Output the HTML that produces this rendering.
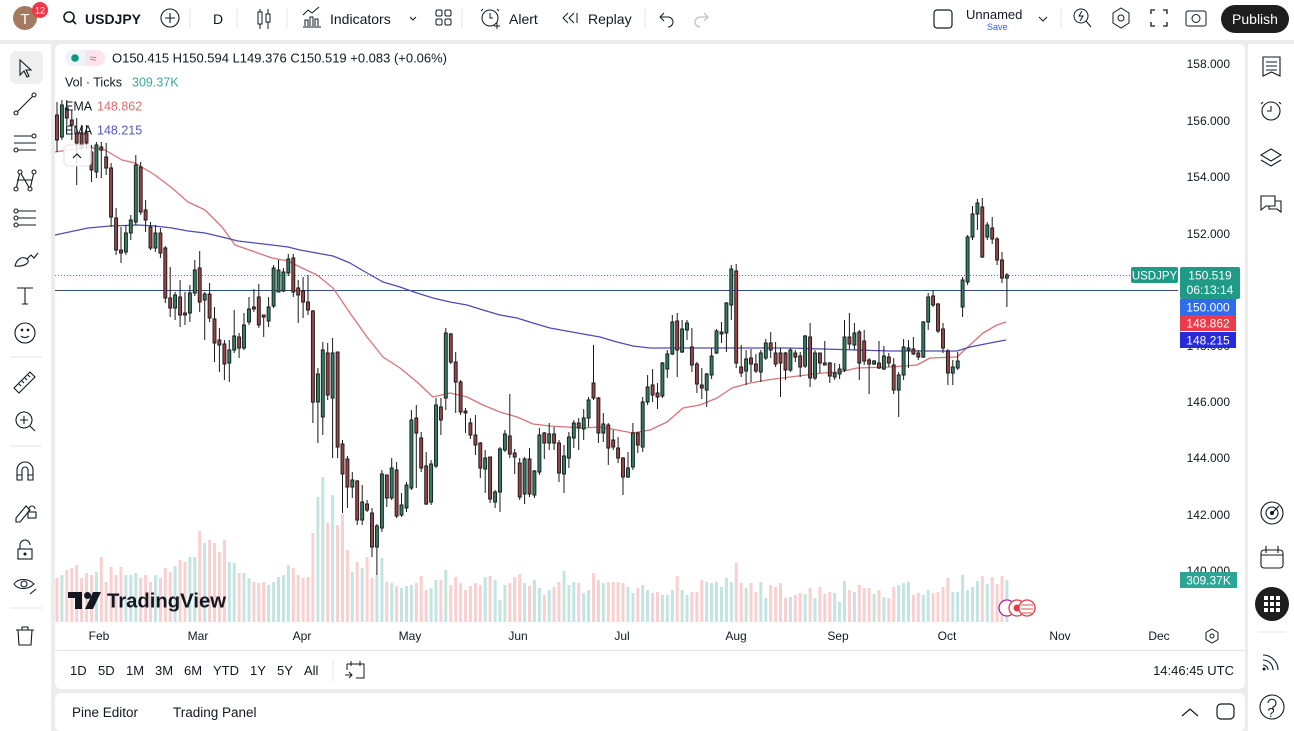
<!DOCTYPE html>
<html><head><meta charset="utf-8"><style>
html,body{margin:0;padding:0;background:#ececec;width:1294px;height:731px;overflow:hidden}
svg{position:absolute;left:0;top:0}
text{font-family:"Liberation Sans",sans-serif;fill:#131722}
</style></head><body>
<svg width="1294" height="731" viewBox="0 0 1294 731" xmlns="http://www.w3.org/2000/svg">
<!-- panels -->
<rect x="0" y="0" width="1294" height="40" fill="#fff"/>
<rect x="0" y="44" width="51" height="687" fill="#fff"/>
<rect x="55" y="44" width="1190" height="645" rx="6" fill="#fff"/>
<rect x="55" y="693" width="1190" height="38" rx="6" fill="#fff"/>
<rect x="1248" y="44" width="46" height="687" fill="#fff"/>

<!-- top toolbar -->
<circle cx="25" cy="18" r="12" fill="#a37a5f"/>
<text x="25" y="24" font-size="15" text-anchor="middle" style="fill:#fff">T</text>
<circle cx="40" cy="10" r="8" fill="#f23645"/>
<text x="40" y="13.5" font-size="9" text-anchor="middle" style="fill:#fff">12</text>
<circle cx="69" cy="17" r="5" fill="none" stroke="#131722" stroke-width="1.6"/>
<line x1="72.5" y1="20.5" x2="76" y2="24" stroke="#131722" stroke-width="1.6"/>
<text x="85" y="24" font-size="14" font-weight="bold">USDJPY</text>
<circle cx="170" cy="18" r="9" fill="none" stroke="#131722" stroke-width="1.1"/>
<path d="M165 18h10M170 13v10" stroke="#131722" stroke-width="1.1"/>
<path d="M190 9v19M237 9v19M287 9v19M462 9v19M645 9v19M1061 9v19" stroke="#e0e3eb" stroke-width="1"/>
<text x="213" y="24" font-size="14">D</text>
<path d="M260 9v20M268 9v20" stroke="#131722" stroke-width="1"/>
<rect x="258" y="12" width="4" height="12" fill="#fff" stroke="#131722"/>
<rect x="266" y="14" width="4" height="8" fill="#fff" stroke="#131722"/>
<path d="M303 27h18M305 26v-6h3v6M310 26v-9h3v9M315 26v-7h3v7M303 15l5-5 4 3 7-6" fill="none" stroke="#131722" stroke-width="1"/>
<text x="330" y="24" font-size="14">Indicators</text>
<path d="M410 17l3 3 3-3" fill="none" stroke="#131722" stroke-width="1"/>
<rect x="436" y="10" width="6" height="6" rx="1.5" fill="none" stroke="#131722"/>
<rect x="445" y="10" width="6" height="6" rx="1.5" fill="none" stroke="#131722"/>
<rect x="436" y="19" width="6" height="6" rx="1.5" fill="none" stroke="#131722"/>
<rect x="445" y="19" width="6" height="6" rx="1.5" fill="none" stroke="#131722"/>
<circle cx="490" cy="18" r="8" fill="none" stroke="#131722"/>
<path d="M490 13v5h3M483 9l-2 2M497 9l2 2M494 26h6M497 23v6" fill="none" stroke="#131722"/>
<text x="509" y="24" font-size="14">Alert</text>
<path d="M568 13l-5 5 5 5M574 13l-5 5 5 5M577 13v10" fill="none" stroke="#131722"/>
<text x="588" y="24" font-size="14">Replay</text>
<path d="M660 17h8a5 5 0 0 1 0 10M660 17l4-4M660 17l4 4" fill="none" stroke="#131722"/>
<path d="M708 17h-8a5 5 0 0 0 0 10M708 17l-4-4M708 17l-4 4" fill="none" stroke="#b2b5be"/>
<rect x="934" y="10" width="18" height="18" rx="3" fill="none" stroke="#131722" stroke-width="1.2"/>
<text x="966" y="19" font-size="13">Unnamed</text>
<text x="987" y="30" font-size="9" style="fill:#2962ff">Save</text>
<path d="M1039 17l4 4 4-4" fill="none" stroke="#131722"/>
<circle cx="1081" cy="16" r="7" fill="none" stroke="#131722"/>
<path d="M1086 21l5 6M1082 11l-3 5h4l-3 5" fill="none" stroke="#131722"/>
<path d="M1121 8l8 5v10l-8 5-8-5V13z" fill="none" stroke="#131722"/>
<circle cx="1121" cy="18" r="3" fill="none" stroke="#131722"/>
<path d="M1151 14v-4h4M1163 10h4v4M1167 22v4h-4M1155 26h-4v-4" fill="none" stroke="#131722" stroke-width="1.3"/>
<rect x="1186" y="11" width="20" height="15" rx="2" fill="none" stroke="#131722"/>
<circle cx="1196" cy="18.5" r="4" fill="none" stroke="#131722"/>
<rect x="1221" y="5" width="68" height="28" rx="14" fill="#1e1e1e"/>
<text x="1255" y="24" font-size="14" text-anchor="middle" style="fill:#fff">Publish</text>

<!-- left toolbar -->
<rect x="10" y="51" width="33" height="33" rx="6" fill="#efefef"/>
<g fill="none" stroke="#131722" stroke-width="1.1">
<path d="M20 60v15l4-4 3 6 2-1-3-6h5z"/>
<path d="M17 112l16-16"/><circle cx="16" cy="113" r="2" fill="#fff"/><circle cx="34" cy="95" r="2" fill="#fff"/>
<path d="M14 136h22M14 143h22M14 150h22"/><circle cx="34" cy="136" r="2" fill="#fff"/><circle cx="16" cy="150" r="2" fill="#fff"/>
<path d="M16 189l4-17 10 17 4-17M17 180h15"/><circle cx="16" cy="189" r="2" fill="#fff"/><circle cx="20" cy="172" r="2" fill="#fff"/><circle cx="30" cy="189" r="2" fill="#fff"/><circle cx="34" cy="172" r="2" fill="#fff"/>
<path d="M18 211h18M18 218h18M18 225h18"/><circle cx="16" cy="211" r="2" fill="#fff"/><circle cx="16" cy="218" r="2" fill="#fff"/><circle cx="16" cy="225" r="2" fill="#fff"/>
<path d="M15 266c2-8 8-10 12-7s-2 8-12 7zM27 259l4-4 3 3 4-5"/>
<path d="M17 288h16M25 288v16M22 304h6"/>
<circle cx="25" cy="333" r="10"/><path d="M21 336c2 2 6 2 8 0"/><circle cx="22" cy="330" r=".8" fill="#131722"/><circle cx="28" cy="330" r=".8" fill="#131722"/>
<path d="M14 388l16-16 5 5-16 16zM19 384l2 2M22 381l2 2M25 378l2 2M28 375l2 2"/>
<circle cx="24" cy="420" r="8"/><path d="M24 416v8M20 420h8M30 426l5 5"/>
<path d="M17 480v-10a8 8 0 0 1 16 0v10h-5v-10a3 3 0 0 0-6 0v10zM17 475h5M28 475h5"/>
<path d="M16 518l10-12 4 4-10 12h-4z"/><rect x="28" y="512" width="8" height="6"/><path d="M29 512v-3a3 3 0 0 1 6 0"/>
<rect x="18" y="549" width="14" height="10"/><path d="M20 549v-4a5 5 0 0 1 10 0"/><circle cx="25" cy="554" r="1" fill="#131722"/>
<path d="M14 584c4-6 14-6 20 0c-6 6-16 6-20 0z"/><circle cx="24" cy="584" r="3"/><path d="M30 594l6-5"/>
<path d="M16 630h18M22 630v-3h6v3M18 630l1 15h12l1-15"/>
</g>
<path d="M10 357h32M10 446h32M10 608h32" stroke="#e0e3eb"/>

<!-- right sidebar -->
<g fill="none" stroke="#131722" stroke-width="1.1">
<path d="M1263 57h17v19l-8.5-4-8.5 4z"/><path d="M1266 62h11M1266 66h11M1266 70h11"/>
<circle cx="1271" cy="111" r="9"/><path d="M1271 106v5h-4M1263 102l-2 2M1279 102l2 2"/>
<path d="M1271 149l10 6-10 6-10-6zM1261 160l10 6 10-6"/>
<path d="M1261 196h14v10h-9l-5 4zM1275 201h6v11l-4-3h-8v-3"/>
<circle cx="1272" cy="513" r="11"/><circle cx="1272" cy="513" r="6"/><circle cx="1272" cy="513" r="1.5" fill="#131722"/><path d="M1272 513l7-7"/>
<rect x="1261" y="550" width="22" height="18" rx="3"/><path d="M1261 555h22M1266 546v7M1278 546v7"/>
<path d="M1263 655a15 15 0 0 1 15 15M1263 660a10 10 0 0 1 10 10M1263 665a5 5 0 0 1 5 5"/>
<circle cx="1272" cy="707" r="12"/><path d="M1268 703a4 4 0 1 1 5 4v3"/>
</g>
<circle cx="1264" cy="669" r="1.5" fill="#131722"/>
<circle cx="1272" cy="604" r="17" fill="#1e1e1e"/>
<g fill="#fff"><rect x="1264" y="596" width="4" height="4"/><rect x="1270" y="596" width="4" height="4"/><rect x="1276" y="596" width="4" height="4"/><rect x="1264" y="602" width="4" height="4"/><rect x="1270" y="602" width="4" height="4"/><rect x="1276" y="602" width="4" height="4"/><rect x="1264" y="608" width="4" height="4"/><rect x="1270" y="608" width="4" height="4"/><rect x="1276" y="608" width="4" height="4"/></g>
<text x="1271" y="717" font-size="13" text-anchor="middle">?</text>
<path d="M1258 632h28" stroke="#e0e3eb"/>

<!-- volume -->
<g clip-path="url(#cc)">
<clipPath id="cc"><rect x="55" y="44" width="1123" height="580"/></clipPath>
<path fill="#c3e4e0" d="M60.4 575h3V622h-3zM94.9 572h3V622h-3zM124.4 575h3V622h-3zM129.3 575h3V622h-3zM134.3 573h3V622h-3zM153.9 575h3V622h-3zM173.6 566h3V622h-3zM188.4 557h3V622h-3zM193.3 557h3V622h-3zM203.2 543h3V622h-3zM227.8 562h3V622h-3zM232.7 563h3V622h-3zM242.5 573h3V622h-3zM247.5 578h3V622h-3zM267.1 585h3V622h-3zM272.1 582h3V622h-3zM277 577h3V622h-3zM281.9 575h3V622h-3zM286.8 565h3V622h-3zM316.4 497h3V622h-3zM321.3 477h3V622h-3zM331.1 495h3V622h-3zM350.8 572h3V622h-3zM360.7 568h3V622h-3zM375.4 575h3V622h-3zM380.4 558h3V622h-3zM390.2 583h3V622h-3zM400 588h3V622h-3zM405 586h3V622h-3zM409.9 585h3V622h-3zM429.6 588h3V622h-3zM434.5 580h3V622h-3zM444.3 570h3V622h-3zM483.7 577h3V622h-3zM493.6 580h3V622h-3zM498.5 600h3V622h-3zM503.4 585h3V622h-3zM523.1 583h3V622h-3zM532.9 580h3V622h-3zM537.9 588h3V622h-3zM547.7 590h3V622h-3zM562.5 571h3V622h-3zM567.4 585h3V622h-3zM572.3 582h3V622h-3zM582.2 593h3V622h-3zM587.1 590h3V622h-3zM601.8 583h3V622h-3zM626.5 587h3V622h-3zM631.4 593h3V622h-3zM641.2 585h3V622h-3zM646.1 590h3V622h-3zM660.9 595h3V622h-3zM665.8 595h3V622h-3zM670.8 590h3V622h-3zM680.6 590h3V622h-3zM685.5 595h3V622h-3zM705.2 582h3V622h-3zM710.1 583h3V622h-3zM715 582h3V622h-3zM720 587h3V622h-3zM724.9 578h3V622h-3zM729.8 582h3V622h-3zM744.6 588h3V622h-3zM759.3 582h3V622h-3zM764.3 598h3V622h-3zM788.9 597h3V622h-3zM803.6 594h3V622h-3zM813.5 598h3V622h-3zM833.2 593h3V622h-3zM838.1 602h3V622h-3zM843 581h3V622h-3zM852.9 592h3V622h-3zM872.6 594h3V622h-3zM882.4 597h3V622h-3zM897.2 585h3V622h-3zM902.1 583h3V622h-3zM907 582h3V622h-3zM921.8 595h3V622h-3zM926.7 590h3V622h-3zM951.3 592h3V622h-3zM956.2 592h3V622h-3zM961.1 575h3V622h-3zM966.1 590h3V622h-3zM971 587h3V622h-3zM975.9 581h3V622h-3zM985.8 584h3V622h-3zM1005.4 580h3V622h-3z"/>
<path fill="#f8d0cf" d="M55.5 578h3V622h-3zM65.3 570h3V622h-3zM70.3 568h3V622h-3zM75.2 565h3V622h-3zM80.1 578h3V622h-3zM85 573h3V622h-3zM90 575h3V622h-3zM99.8 557h3V622h-3zM104.7 582h3V622h-3zM109.6 567h3V622h-3zM114.6 575h3V622h-3zM119.5 567h3V622h-3zM139.2 578h3V622h-3zM144.1 575h3V622h-3zM149 582h3V622h-3zM158.9 578h3V622h-3zM163.8 568h3V622h-3zM168.7 572h3V622h-3zM178.6 560h3V622h-3zM183.5 562h3V622h-3zM198.2 531h3V622h-3zM208.1 540h3V622h-3zM213 543h3V622h-3zM217.9 552h3V622h-3zM222.9 540h3V622h-3zM237.6 573h3V622h-3zM252.4 582h3V622h-3zM257.3 583h3V622h-3zM262.2 582h3V622h-3zM291.8 568h3V622h-3zM296.7 575h3V622h-3zM301.6 578h3V622h-3zM306.5 577h3V622h-3zM311.4 533h3V622h-3zM326.2 523h3V622h-3zM336.1 525h3V622h-3zM341 514h3V622h-3zM345.9 550h3V622h-3zM355.7 562h3V622h-3zM365.6 557h3V622h-3zM370.5 578h3V622h-3zM385.3 582h3V622h-3zM395.1 586h3V622h-3zM414.8 583h3V622h-3zM419.7 576h3V622h-3zM424.7 590h3V622h-3zM439.4 580h3V622h-3zM449.3 585h3V622h-3zM454.2 577h3V622h-3zM459.1 583h3V622h-3zM464 590h3V622h-3zM468.9 586h3V622h-3zM473.9 583h3V622h-3zM478.8 585h3V622h-3zM488.6 576h3V622h-3zM508.3 583h3V622h-3zM513.2 577h3V622h-3zM518.2 574h3V622h-3zM528 586h3V622h-3zM542.8 595h3V622h-3zM552.6 587h3V622h-3zM557.5 582h3V622h-3zM577.2 583h3V622h-3zM592 573h3V622h-3zM596.9 580h3V622h-3zM606.8 582h3V622h-3zM611.7 582h3V622h-3zM616.6 582h3V622h-3zM621.5 583h3V622h-3zM636.3 588h3V622h-3zM651.1 593h3V622h-3zM656 592h3V622h-3zM675.7 576h3V622h-3zM690.4 592h3V622h-3zM695.4 592h3V622h-3zM700.3 580h3V622h-3zM734.7 563h3V622h-3zM739.7 583h3V622h-3zM749.5 583h3V622h-3zM754.4 592h3V622h-3zM769.2 585h3V622h-3zM774.1 587h3V622h-3zM779 583h3V622h-3zM784 598h3V622h-3zM793.8 595h3V622h-3zM798.7 593h3V622h-3zM808.6 588h3V622h-3zM818.4 587h3V622h-3zM823.3 594h3V622h-3zM828.3 592h3V622h-3zM847.9 590h3V622h-3zM857.8 585h3V622h-3zM862.7 588h3V622h-3zM867.6 588h3V622h-3zM877.5 590h3V622h-3zM887.3 598h3V622h-3zM892.2 587h3V622h-3zM911.9 595h3V622h-3zM916.8 593h3V622h-3zM931.6 593h3V622h-3zM936.5 592h3V622h-3zM941.5 587h3V622h-3zM946.4 578h3V622h-3zM980.8 576h3V622h-3zM990.7 577h3V622h-3zM995.6 584h3V622h-3zM1000.5 576h3V622h-3z"/>

<!-- horizontal lines -->
<line x1="55" y1="275.5" x2="1131" y2="275.5" stroke="#22998a" stroke-width="1" stroke-dasharray="1 2"/>
<line x1="55" y1="290.5" x2="1178" y2="290.5" stroke="#34507a" stroke-width="1"/>

<!-- EMAs -->
<path fill="none" stroke="#d87378" stroke-width="1.3" stroke-linejoin="round" d="M55 152L88 147L105 150L122 160L135 163L155 175L172 188L188 202L205 210L222 227L235 245L255 252L272 258L288 261L300 267L317 275L333 288L350 313L367 337L383 357L400 368L417 382L433 397L450 393L467 397L483 405L500 412L517 417L533 424L550 426L583 428L600 427L617 430L633 433L650 430L667 422L683 408L700 405L717 398L732 388L750 383L767 380L790 377L823 373L840 372L857 368L890 367L917 365L930 358L957 357L970 345L983 333L997 325L1006 322"/>
<path fill="none" stroke="#4d4db0" stroke-width="1.3" stroke-linejoin="round" d="M55 235L88 228L110 226L138 225L155 226L172 228L188 231L205 233L222 237L238 241L255 243L272 245L288 247L300 250L333 256L350 263L367 273L383 282L400 287L417 293L433 298L450 302L467 305L483 310L500 315L517 318L533 323L550 328L583 334L600 337L617 342L633 346L650 348L683 348L717 348L750 348L790 348L823 349L857 350L890 351L957 351L970 347L990 343L1006 340"/>

<!-- wicks -->
<path fill="none" stroke="#1a1a1a" stroke-width="1" d="M57 102V152M61.9 100V140M66.8 100V125M71.8 110V140M76.7 118V185M81.6 125V150M86.5 125V150M91.5 145V182M96.4 142V178M101.3 142V178M106.2 143V175M111.1 163V227M116.1 208V255M121 227V263M125.9 225V255M130.8 215V240M135.8 155V225M140.7 162V215M145.6 200V232M150.5 222V250M155.4 225V252M160.4 228V258M165.3 246V303M170.2 267V317M175.1 292V320M180.1 280V327M185 292V325M189.9 285V322M194.8 260V296M199.7 251V312M204.7 292V340M209.6 283V322M214.5 307V362M219.4 328V372M224.4 340V380M229.3 340V382M234.2 310V353M239.1 333V358M244 313V350M249 297V325M253.9 289V312M258.8 284V328M263.7 315V337M268.6 297V327M273.6 265V308M278.5 260V292M283.4 268V292M288.3 254V276M293.3 254V297M298.2 280V323M303.1 277V318M308 275V315M312.9 310V423M317.9 368V443M322.8 342V435M327.7 343V400M332.6 338V458M337.6 352V458M342.5 440V513M347.4 456V508M352.3 472V498M357.2 480V525M362.2 485V525M367.1 500V512M372 508V557M376.9 524V575M381.9 470V532M386.8 475V507M391.7 458V500M396.6 462V518M401.5 493V517M406.5 482V512M411.4 410V490M416.3 405V488M421.2 432V472M426.2 452V505M431.1 460V505M436 398V468M440.9 398V435M445.8 328V410M450.8 333V364M455.7 352V413M460.6 380V415M465.5 408V433M470.4 418V439M475.4 415V455M480.3 442V478M485.2 450V493M490.1 457V503M495.1 490V508M500 447V512M504.9 430V452M509.8 394V458M514.7 449V474M519.7 458V500M524.6 457V504M529.5 448V497M534.4 470V498M539.4 428V475M544.3 432V459M549.2 423V450M554.1 427V450M559 440V482M564 445V493M568.9 432V468M573.8 420V448M578.7 418V450M583.7 409V440M588.6 397V427M593.5 345V400M598.4 397V443M603.3 413V442M608.3 423V465M613.2 430V450M618.1 437V463M623 457V495M628 452V478M632.9 423V470M637.8 432V453M642.7 397V452M647.6 375V405M652.6 369V402M657.5 383V409M662.4 362V398M667.3 350V378M672.3 315V355M677.2 313V377M682.1 320V353M687 320V340M691.9 328V372M696.9 362V393M701.8 368V399M706.7 373V407M711.6 348V379M716.5 329V354M721.5 322V343M726.4 302V352M731.3 265V320M736.2 264V368M741.2 345V377M746.1 350V385M751 349V382M755.9 354V373M760.8 350V382M765.8 339V360M770.7 332V358M775.6 342V367M780.5 348V397M785.5 352V380M790.4 348V372M795.3 350V362M800.2 352V377M805.1 335V368M810.1 323V387M815 350V380M819.9 353V373M824.8 341V365M829.8 362V383M834.7 363V380M839.6 364V379M844.5 320V372M849.4 313V349M854.4 323V350M859.3 330V380M864.2 330V365M869.1 358V394M874.1 360V365M879 341V369M883.9 346V370M888.8 353V367M893.7 358V394M898.7 372V417M903.6 339V380M908.5 340V368M913.4 337V355M918.3 350V360M923.3 321V358M928.2 293V330M933.1 290V307M938 303V333M943 323V353M947.9 349V385M952.8 360V385M957.7 352V370M962.6 277V317M967.6 235V285M972.5 206V240M977.4 199V230M982.3 198V258M987.3 222V240M992.2 217V244M997.1 237V265M1002 252V283M1006.9 273V307"/>
<!-- green bodies -->
<path fill="#2f7d63" stroke="#1a1a1a" stroke-width="0.9" d="M60.4 105h3V137h-3zM94.9 145h3V172h-3zM124.4 233h3V252h-3zM129.3 220h3V233h-3zM134.3 165h3V222h-3zM153.9 233h3V248h-3zM173.6 295h3V308h-3zM188.4 293h3V313h-3zM193.3 270h3V293h-3zM203.2 294h3V300h-3zM227.8 350h3V363h-3zM232.7 336h3V350h-3zM242.5 325h3V348h-3zM247.5 309h3V322h-3zM267.1 307h3V321h-3zM272.1 268h3V306h-3zM277 270h3V292h-3zM281.9 272h3V291h-3zM286.8 259h3V273h-3zM316.4 374h3V402h-3zM321.3 350h3V417h-3zM331.1 353h3V398h-3zM350.8 480h3V487h-3zM360.7 502h3V520h-3zM375.4 526h3V547h-3zM380.4 474h3V528h-3zM390.2 468h3V498h-3zM400 505h3V515h-3zM405 485h3V508h-3zM409.9 420h3V488h-3zM429.6 464h3V502h-3zM434.5 405h3V466h-3zM444.3 333h3V398h-3zM483.7 458h3V469h-3zM493.6 492h3V502h-3zM498.5 449h3V492h-3zM503.4 434h3V450h-3zM523.1 459h3V494h-3zM532.9 471h3V495h-3zM537.9 435h3V472h-3zM547.7 434h3V443h-3zM562.5 456h3V474h-3zM567.4 437h3V458h-3zM572.3 423h3V438h-3zM582.2 418h3V429h-3zM587.1 400h3V418h-3zM601.8 424h3V433h-3zM626.5 468h3V477h-3zM631.4 433h3V467h-3zM641.2 402h3V447h-3zM646.1 387h3V402h-3zM660.9 363h3V396h-3zM665.8 354h3V369h-3zM670.8 322h3V354h-3zM680.6 329h3V352h-3zM685.5 323h3V330h-3zM705.2 374h3V390h-3zM710.1 356h3V375h-3zM715 331h3V353h-3zM720 332h3V334h-3zM724.9 303h3V333h-3zM729.8 269h3V305h-3zM744.6 359h3V371h-3zM759.3 353h3V372h-3zM764.3 343h3V358h-3zM788.9 350h3V370h-3zM803.6 336h3V366h-3zM813.5 353h3V378h-3zM833.2 373h3V377h-3zM838.1 369h3V374h-3zM843 337h3V370h-3zM852.9 333h3V345h-3zM872.6 361h3V364h-3zM882.4 356h3V369h-3zM897.2 375h3V390h-3zM902.1 347h3V375h-3zM907 348h3V350h-3zM921.8 322h3V357h-3zM926.7 297h3V322h-3zM951.3 367h3V373h-3zM956.2 361h3V368h-3zM961.1 280h3V307h-3zM966.1 237h3V282h-3zM971 214h3V237h-3zM975.9 203h3V214h-3zM985.8 225h3V237h-3zM1005.4 275h3V278h-3z"/>
<!-- red bodies -->
<path fill="#974245" stroke="#1a1a1a" stroke-width="0.9" d="M55.5 115h3V140h-3zM65.3 108h3V118h-3zM70.3 120h3V125h-3zM75.2 133h3V143h-3zM80.1 133h3V148h-3zM85 133h3V143h-3zM90 152h3V170h-3zM99.8 147h3V150h-3zM104.7 157h3V168h-3zM109.6 168h3V217h-3zM114.6 218h3V250h-3zM119.5 250h3V253h-3zM139.2 167h3V212h-3zM144.1 210h3V220h-3zM149 227h3V248h-3zM158.9 233h3V253h-3zM163.8 248h3V298h-3zM168.7 298h3V308h-3zM178.6 297h3V315h-3zM183.5 313h3V315h-3zM198.2 268h3V302h-3zM208.1 294h3V318h-3zM213 319h3V343h-3zM217.9 340h3V345h-3zM222.9 344h3V364h-3zM237.6 337h3V348h-3zM252.4 307h3V309h-3zM257.3 297h3V325h-3zM262.2 315h3V317h-3zM291.8 258h3V292h-3zM296.7 288h3V295h-3zM301.6 291h3V302h-3zM306.5 302h3V310h-3zM311.4 311h3V402h-3zM326.2 353h3V395h-3zM336.1 352h3V447h-3zM341 444h3V474h-3zM345.9 459h3V487h-3zM355.7 481h3V520h-3zM365.6 504h3V510h-3zM370.5 513h3V547h-3zM385.3 475h3V498h-3zM395.1 470h3V516h-3zM414.8 418h3V433h-3zM419.7 438h3V468h-3zM424.7 466h3V504h-3zM439.4 407h3V420h-3zM449.3 334h3V362h-3zM454.2 362h3V382h-3zM459.1 382h3V412h-3zM464 411h3V413h-3zM468.9 423h3V435h-3zM473.9 435h3V445h-3zM478.8 443h3V468h-3zM488.6 457h3V499h-3zM508.3 436h3V454h-3zM513.2 453h3V457h-3zM518.2 463h3V497h-3zM528 459h3V494h-3zM542.8 433h3V443h-3zM552.6 434h3V443h-3zM557.5 443h3V473h-3zM577.2 423h3V428h-3zM592 383h3V398h-3zM596.9 398h3V433h-3zM606.8 425h3V448h-3zM611.7 440h3V447h-3zM616.6 448h3V458h-3zM621.5 458h3V477h-3zM636.3 433h3V445h-3zM651.1 385h3V395h-3zM656 393h3V397h-3zM675.7 321h3V350h-3zM690.4 347h3V365h-3zM695.4 364h3V384h-3zM700.3 385h3V388h-3zM734.7 271h3V363h-3zM739.7 367h3V373h-3zM749.5 358h3V364h-3zM754.4 364h3V371h-3zM769.2 343h3V350h-3zM774.1 353h3V364h-3zM779 353h3V363h-3zM784 353h3V370h-3zM793.8 353h3V357h-3zM798.7 356h3V367h-3zM808.6 337h3V378h-3zM818.4 353h3V363h-3zM823.3 363h3V365h-3zM828.3 363h3V376h-3zM847.9 337h3V344h-3zM857.8 332h3V363h-3zM862.7 341h3V361h-3zM867.6 360h3V364h-3zM877.5 363h3V368h-3zM887.3 357h3V363h-3zM892.2 365h3V390h-3zM911.9 349h3V354h-3zM916.8 353h3V357h-3zM931.6 296h3V305h-3zM936.5 304h3V331h-3zM941.5 329h3V348h-3zM946.4 351h3V373h-3zM980.8 207h3V257h-3zM990.7 228h3V239h-3zM995.6 239h3V260h-3zM1000.5 260h3V278h-3z"/>
</g>

<!-- legend -->
<rect x="65" y="50" width="40" height="16" rx="8" fill="#f0f3fa"/>
<path d="M85 50h12a8 8 0 0 1 0 16h-12z" fill="#fce4ec"/>
<circle cx="75" cy="58" r="3.8" fill="#089981"/>
<text x="93" y="62.5" font-size="12" text-anchor="middle" style="fill:#e05080">≈</text>
<text x="112" y="62.5" font-size="12.5" textLength="335" lengthAdjust="spacingAndGlyphs">O150.415 H150.594 L149.376 C150.519 +0.083 (+0.06%)</text>
<text x="65" y="86.5" font-size="12.5">Vol · Ticks</text>
<text x="132" y="86.5" font-size="12.5" style="fill:#3aa79b">309.37K</text>
<text x="65" y="110.5" font-size="12.5">EMA</text>
<text x="97" y="110.5" font-size="12.5" style="fill:#e06a6f">148.862</text>
<text x="65" y="134.5" font-size="12.5">EMA</text>
<text x="97" y="134.5" font-size="12.5" style="fill:#5555c0">148.215</text>
<rect x="64" y="145" width="27" height="21" rx="4" fill="#fff" fill-opacity="0.85" stroke="#e0e3eb"/>
<path d="M73 158l4-4 4 4" fill="none" stroke="#131722" stroke-width="1.2"/>

<!-- TradingView logo -->
<path d="M68 592h14v17h-7v-11h-7z" fill="#131722"/>
<circle cx="87.5" cy="595.5" r="3.5" fill="#131722"/>
<path d="M93 592h8l-8 17h-8z" fill="#131722"/>
<text x="107" y="607.5" font-size="20" font-weight="bold" textLength="119" lengthAdjust="spacingAndGlyphs">TradingView</text>

<!-- event icons -->
<circle cx="1007" cy="608" r="8" fill="#fff" stroke="#9c27b0" stroke-width="1.3"/>
<circle cx="1017" cy="608" r="8" fill="#fff" stroke="#e53945" stroke-width="1.3"/>
<circle cx="1017" cy="608" r="3.5" fill="#e53945"/>
<circle cx="1027" cy="608" r="8" fill="#fff" stroke="#e53945" stroke-width="1.3"/>
<path d="M1021 605h12M1021 609h12M1022 613h10" stroke="#e57373" stroke-width="1.2"/>

<!-- price axis -->
<g font-size="12" text-anchor="end">
<text x="1230" y="68">158.000</text>
<text x="1230" y="125">156.000</text>
<text x="1230" y="181">154.000</text>
<text x="1230" y="238">152.000</text>
<text x="1230" y="350">148.000</text>
<text x="1230" y="406">146.000</text>
<text x="1230" y="462">144.000</text>
<text x="1230" y="519">142.000</text>
<text x="1230" y="575">140.000</text>
</g>
<rect x="1131" y="267" width="47" height="16" rx="2" fill="#1f9a86"/>
<text x="1154.5" y="279.5" font-size="11.5" text-anchor="middle" style="fill:#fff">USDJPY</text>
<rect x="1180" y="267" width="60" height="32" rx="2" fill="#1f9a86"/>
<text x="1210" y="279.5" font-size="12" text-anchor="middle" style="fill:#fff">150.519</text>
<text x="1210" y="294" font-size="12" text-anchor="middle" style="fill:#fff">06:13:14</text>
<rect x="1180" y="299" width="56" height="16" fill="#2f6bed"/>
<text x="1208" y="311.5" font-size="12" text-anchor="middle" style="fill:#fff">150.000</text>
<rect x="1180" y="315" width="56" height="16" fill="#ec3a4a"/>
<text x="1208" y="327.5" font-size="12" text-anchor="middle" style="fill:#fff">148.862</text>
<rect x="1180" y="332" width="56" height="16" fill="#2828dc"/>
<text x="1208" y="344.5" font-size="12" text-anchor="middle" style="fill:#fff">148.215</text>
<rect x="1180" y="572" width="57" height="16" fill="#2aa596"/>
<text x="1208.5" y="584.5" font-size="12" text-anchor="middle" style="fill:#fff">309.37K</text>

<!-- time axis -->
<g font-size="12" text-anchor="middle">
<text x="99" y="640">Feb</text>
<text x="198" y="640">Mar</text>
<text x="302" y="640">Apr</text>
<text x="410" y="640">May</text>
<text x="518" y="640">Jun</text>
<text x="622" y="640">Jul</text>
<text x="736" y="640">Aug</text>
<text x="838" y="640">Sep</text>
<text x="947" y="640">Oct</text>
<text x="1060" y="640">Nov</text>
<text x="1159" y="640">Dec</text>
</g>
<path d="M1212 629l6 3.5v7l-6 3.5-6-3.5v-7z" fill="none" stroke="#131722"/>
<circle cx="1212" cy="636" r="2" fill="none" stroke="#131722"/>
<line x1="55" y1="650.5" x2="1245" y2="650.5" stroke="#e0e3eb"/>

<!-- range bar -->
<g font-size="13">
<text x="70" y="675">1D</text>
<text x="98" y="675">5D</text>
<text x="126" y="675">1M</text>
<text x="155" y="675">3M</text>
<text x="184" y="675">6M</text>
<text x="213" y="675">YTD</text>
<text x="250" y="675">1Y</text>
<text x="277" y="675">5Y</text>
<text x="304" y="675">All</text>
<text x="1234" y="675" text-anchor="end">14:46:45 UTC</text>
</g>
<line x1="333" y1="660" x2="333" y2="681" stroke="#e0e3eb"/>
<path d="M347 664h17v14h-8M347 664v6M351 661v5M360 661v5M345 675h7M349 672l3 3-3 3" fill="none" stroke="#131722"/>

<!-- bottom panel -->
<text x="72" y="717" font-size="13.5">Pine Editor</text>
<text x="173" y="717" font-size="13.5">Trading Panel</text>
<path d="M1182 716l8-7 8 7" fill="none" stroke="#131722" stroke-width="1.2"/>
<rect x="1217" y="704" width="17" height="15" rx="4" fill="none" stroke="#131722" stroke-width="1.2"/>
</svg>
</body></html>
